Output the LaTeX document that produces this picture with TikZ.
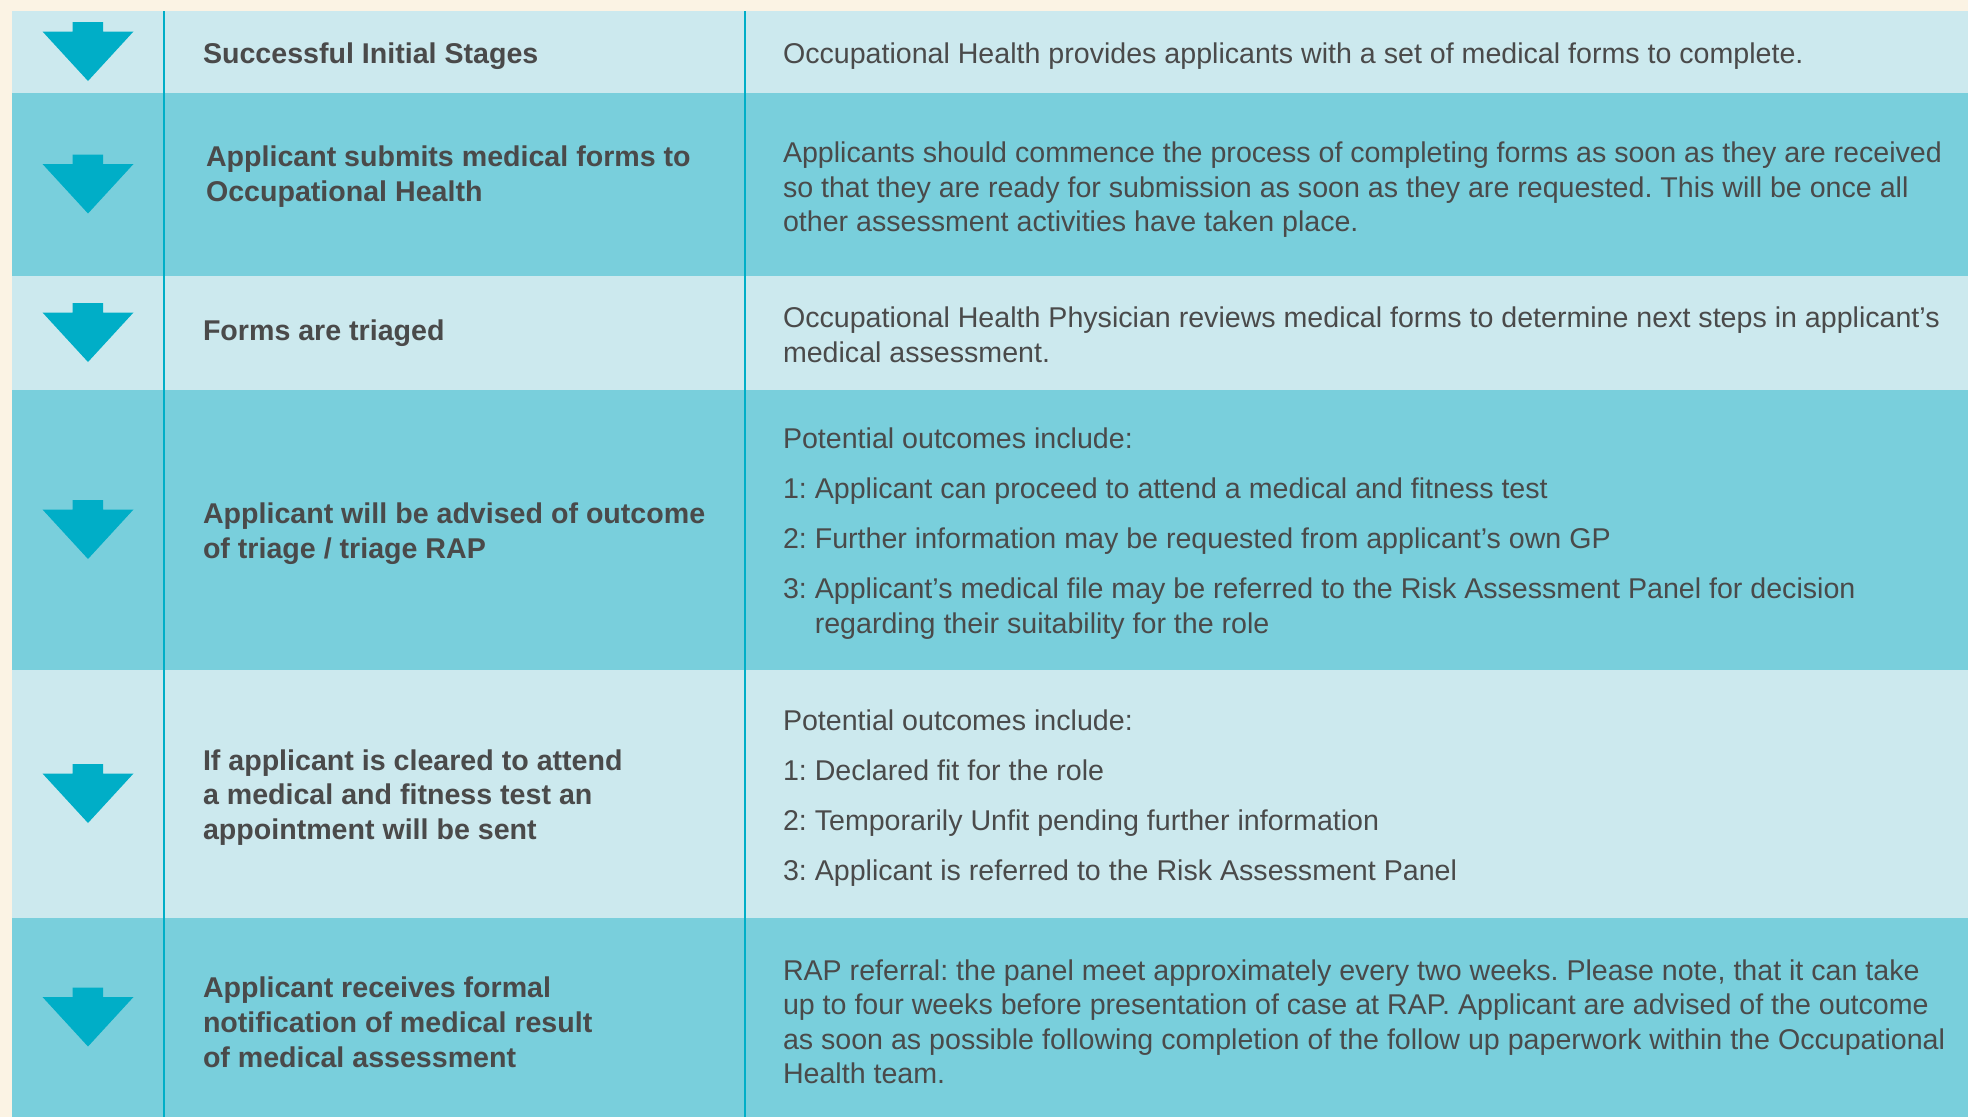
\documentclass[tikz,border=0pt]{standalone}
\usepackage{fontspec}
\setmainfont{Liberation Sans}
\usepackage{tikz}
\frenchspacing
\definecolor{ohcream}{HTML}{FBF3E4}
\definecolor{ohlight}{HTML}{CCE9EE}
\definecolor{ohdark}{HTML}{79CFDC}
\definecolor{ohteal}{HTML}{00AEC7}
\definecolor{ohgrey}{HTML}{4A4A4A}
\newcommand{\fH}{\fontsize{28.6}{34.8}\selectfont\bfseries}
\newcommand{\fB}{\fontsize{28.6}{34.5}\selectfont\mdseries}
% down arrow of one stage, centred on its row at height #1
\newcommand{\stagearrow}[1]{%
  \fill[ohteal] (72.5,#1-30) -- (103,#1-30) -- (103,#1-20.5) -- (133.5,#1-20.5)
    -- (88,#1+29) -- (42.5,#1-20.5) -- (72.5,#1-20.5) -- cycle;}

\begin{document}
\begin{tikzpicture}[x=1pt,y=-1pt,
    txt/.style={inner sep=0pt,outer sep=0pt,anchor=west,align=left,text=ohgrey},
    stagetxt/.style={txt,font=\fH},
    desctxt/.style={txt,font=\fB},
    divider/.style={draw=ohteal,line width=2.5pt}]
  \path[use as bounding box,fill=ohcream] (0,0) rectangle (1968,1117);

  % rows: light / dark bands
  \fill[ohlight] (12,11) rectangle (1968,93);
  \fill[ohdark] (12,93) rectangle (1968,276);
  \fill[ohlight] (12,276) rectangle (1968,390);
  \fill[ohdark] (12,390) rectangle (1968,670);
  \fill[ohlight] (12,670) rectangle (1968,918);
  \fill[ohdark] (12,918) rectangle (1968,1117);
  \draw[divider] (164,11) -- (164,1117);
  \draw[divider] (745,11) -- (745,1117);

  % stage arrows
  \stagearrow{52}
  \stagearrow{184.5}
  \stagearrow{333}
  \stagearrow{530}
  \stagearrow{794}
  \stagearrow{1017.5}

  % Stage 1
  \node[stagetxt] (s1) at (203,55.8) {Successful Initial Stages};
  \node[desctxt] (d1) at (783,55.8)
    {Occupational Health provides applicants with a set of medical forms to complete.};
  % Stage 2
  \node[stagetxt] (s2) at (206,176.8)
    {Applicant submits medical forms to\\Occupational Health};
  \node[desctxt] (d2) at (783,189.8)
    {Applicants should commence the process of completing forms as soon as they are received\\
     so that they are ready for submission as soon as they are requested. This will be once all\\
     other assessment activities have taken place.};
  % Stage 3
  \node[stagetxt] (s3) at (203,333) {Forms are triaged};
  \node[desctxt] (d3) at (783,335)
    {Occupational Health Physician reviews medical forms to determine next steps in applicant’s\\
     medical assessment.};
  % Stage 4
  \node[stagetxt] (s4) at (203,533.5)
    {Applicant will be advised of outcome\\of triage / triage RAP};
  \node[desctxt] (d4) at (783,533.5)
    {Potential outcomes include:\\[15.5pt]
     1:\ Applicant can proceed to attend a medical and fitness test\\[15.5pt]
     2:\ Further information may be requested from applicant’s own GP\\[15.5pt]
     3:\ Applicant’s medical file may be referred to the Risk Assessment Panel for decision\\
     \phantom{3:\ }regarding their suitability for the role};
  % Stage 5
  \node[stagetxt] (s5) at (203,797.5)
    {If applicant is cleared to attend\\a medical and fitness test an\\appointment will be sent};
  \node[desctxt] (d5) at (783,798.5)
    {Potential outcomes include:\\[15.5pt]
     1:\ Declared fit for the role\\[15.5pt]
     2:\ Temporarily Unfit pending further information\\[15.5pt]
     3:\ Applicant is referred to the Risk Assessment Panel};
  % Stage 6
  \node[stagetxt] (s6) at (203,1022)
    {Applicant receives formal\\notification of medical result\\of medical assessment};
  \node[desctxt] (d6) at (783,1022)
    {RAP referral: the panel meet approximately every two weeks. Please note, that it can take\\
     up to four weeks before presentation of case at RAP. Applicant are advised of the outcome\\
     as soon as possible following completion of the follow up paperwork within the Occupational\\
     Health team.};
\end{tikzpicture}
\end{document}
